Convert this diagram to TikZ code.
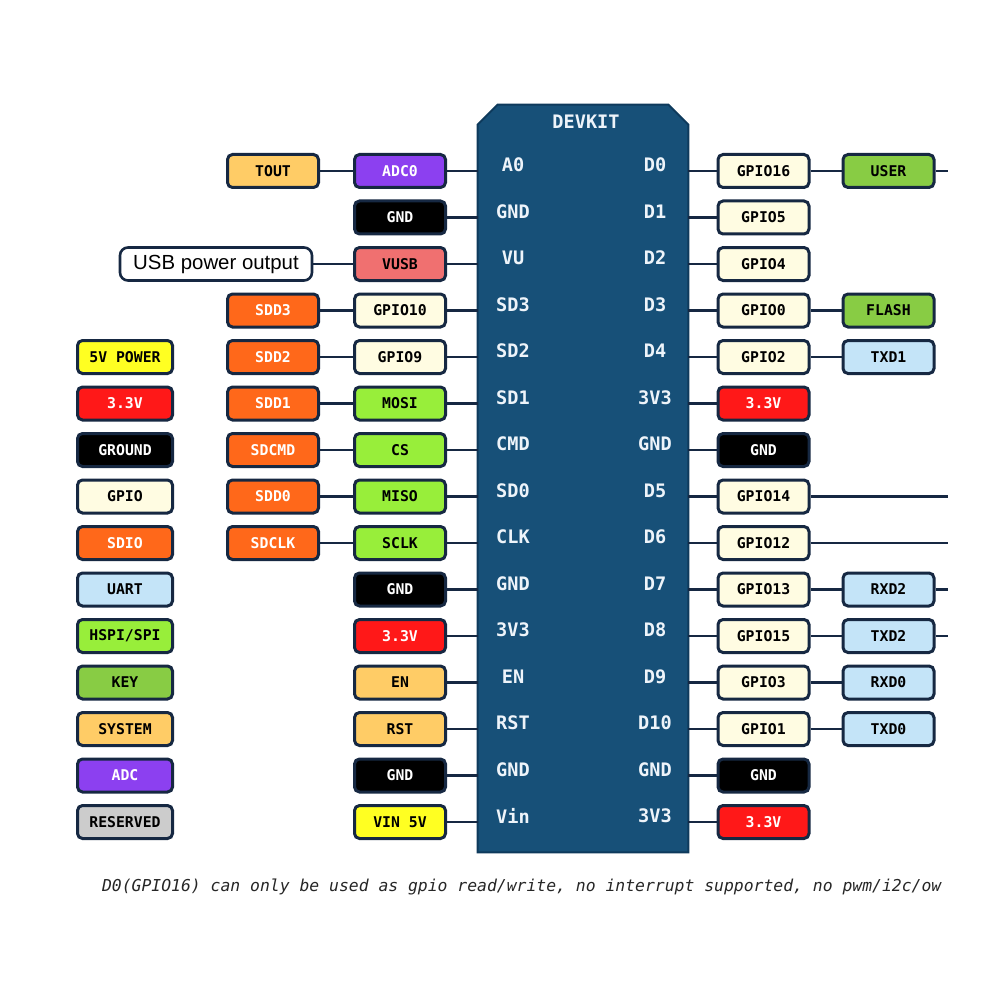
\documentclass[tikz,border=0pt]{standalone}
\usepackage{fontspec}
\setmainfont{Liberation Sans}
\setmonofont{DejaVu Sans Mono}
\usetikzlibrary{positioning}
\definecolor{edgecol}{RGB}{22,40,66}
\definecolor{boardcol}{RGB}{23,80,120}
\definecolor{boardedgecol}{RGB}{14,58,92}
\definecolor{systemcol}{RGB}{255,204,102}
\definecolor{adccol}{RGB}{140,64,240}
\definecolor{vusbcol}{RGB}{240,112,112}
\definecolor{sdiocol}{RGB}{255,104,26}
\definecolor{gpiocol}{RGB}{255,252,226}
\definecolor{spicol}{RGB}{152,238,58}
\definecolor{keycol}{RGB}{136,204,68}
\definecolor{uartcol}{RGB}{196,228,248}
\definecolor{redcol}{RGB}{255,24,24}
\definecolor{powercol}{RGB}{255,255,34}
\definecolor{reservedcol}{RGB}{204,204,204}
\definecolor{labelcol}{RGB}{238,244,250}
\tikzset
{
    pin/.style       = {rectangle, rounded corners=2.5pt, draw=edgecol, line width=1.5pt, minimum width=45.5pt, minimum height=16.5pt, inner sep=0pt, font=\ttfamily\bfseries\fontsize{7.4}{8}\selectfont},
    legendbox/.style = {pin, minimum width=47.5pt},
    boardlabel/.style= {text=labelcol, font=\ttfamily\bfseries\fontsize{9.3}{10}\selectfont},
    wire/.style      = {draw=edgecol, line width=1.3pt},
    vpower/.style    = {fill=powercol},
    v33/.style       = {fill=redcol, text=white},
    ground/.style    = {fill=black, text=white},
    gpio/.style      = {fill=gpiocol},
    sdio/.style      = {fill=sdiocol, text=white},
    uart/.style      = {fill=uartcol},
    spi/.style       = {fill=spicol},
    keypin/.style    = {fill=keycol},
    system/.style    = {fill=systemcol},
    adc/.style       = {fill=adccol, text=white},
    reserved/.style  = {fill=reservedcol},
    vusb/.style      = {fill=vusbcol}
}

\begin{document}
\begin{tikzpicture}[x=0.5pt, y=-0.5pt]
\useasboundingbox (0,0) rectangle (1000,1000);
\newcommand\colL{125}
\newcommand\colA{273}
\newcommand\colB{400}
\newcommand\colC{763.5}
\newcommand\colD{888.5}
% board
\node(board) [rectangle, minimum width=105pt, minimum height=373.5pt, inner sep=0pt] at (583, 478.5) {};
\draw[fill=boardcol, draw=boardedgecol, line width=1pt] ([yshift=-10pt]board.north west) -- ([xshift=10pt]board.north west) -- ([xshift=-10pt]board.north east) -- ([yshift=-10pt]board.north east) -- (board.south east) -- (board.south west) -- cycle;
\node(devkit) [boardlabel] at (586, 122) {DEVKIT};
% board pins, left side
\node(pA0) [boardlabel] at (513, 165) {A0};
\node(pGNDa) [boardlabel] at (513, 211.5) {GND};
\node(pVU) [boardlabel] at (513, 258) {VU};
\node(pSD3) [boardlabel] at (513, 304.5) {SD3};
\node(pSD2) [boardlabel] at (513, 351) {SD2};
\node(pSD1) [boardlabel] at (513, 397.5) {SD1};
\node(pCMD) [boardlabel] at (513, 444) {CMD};
\node(pSD0) [boardlabel] at (513, 490.5) {SD0};
\node(pCLK) [boardlabel] at (513, 537) {CLK};
\node(pGNDb) [boardlabel] at (513, 583.5) {GND};
\node(p3V3a) [boardlabel] at (513, 630) {3V3};
\node(pEN) [boardlabel] at (513, 676.5) {EN};
\node(pRST) [boardlabel] at (513, 723) {RST};
\node(pGNDc) [boardlabel] at (513, 769.5) {GND};
\node(pVin) [boardlabel] at (513, 816) {Vin};
% board pins, right side
\node(pD0) [boardlabel] at (655, 165) {D0};
\node(pD1) [boardlabel] at (655, 211.5) {D1};
\node(pD2) [boardlabel] at (655, 258) {D2};
\node(pD3) [boardlabel] at (655, 304.5) {D3};
\node(pD4) [boardlabel] at (655, 351) {D4};
\node(p3V3b) [boardlabel] at (655, 397.5) {3V3};
\node(pGNDd) [boardlabel] at (655, 444) {GND};
\node(pD5) [boardlabel] at (655, 490.5) {D5};
\node(pD6) [boardlabel] at (655, 537) {D6};
\node(pD7) [boardlabel] at (655, 583.5) {D7};
\node(pD8) [boardlabel] at (655, 630) {D8};
\node(pD9) [boardlabel] at (655, 676.5) {D9};
\node(pD10) [boardlabel] at (655, 723) {D10};
\node(pGNDe) [boardlabel] at (655, 769.5) {GND};
\node(p3V3c) [boardlabel] at (655, 816) {3V3};
% left inner column
\node(adc0) [pin,adc] at (\colB, 171) {ADC0};
\node(lgnda) [pin,ground] at (\colB, 217.5) {GND};
\node(vusb) [pin,vusb] at (\colB, 264) {VUSB};
\node(gpio10) [pin,gpio] at (\colB, 310.5) {GPIO10};
\node(gpio9) [pin,gpio] at (\colB, 357) {GPIO9};
\node(mosi) [pin,spi] at (\colB, 403.5) {MOSI};
\node(cs) [pin,spi] at (\colB, 450) {CS};
\node(miso) [pin,spi] at (\colB, 496.5) {MISO};
\node(sclk) [pin,spi] at (\colB, 543) {SCLK};
\node(lgndb) [pin,ground] at (\colB, 589.5) {GND};
\node(l3v3) [pin,v33] at (\colB, 636) {3.3V};
\node(en) [pin,system] at (\colB, 682.5) {EN};
\node(rst) [pin,system] at (\colB, 729) {RST};
\node(lgndc) [pin,ground] at (\colB, 775.5) {GND};
\node(vin) [pin,vpower] at (\colB, 822) {VIN 5V};
% left outer column
\node(tout) [pin,system] at (\colA, 171) {TOUT};
\node(usbout) [rectangle, rounded corners=4pt, draw=edgecol, line width=1.3pt, fill=white, minimum width=96pt, minimum height=16.5pt, font=\fontsize{10.2}{11}\selectfont] at (216, 264) {USB power output};
\node(sdd3) [pin,sdio] at (\colA, 310.5) {SDD3};
\node(sdd2) [pin,sdio] at (\colA, 357) {SDD2};
\node(sdd1) [pin,sdio] at (\colA, 403.5) {SDD1};
\node(sdcmd) [pin,sdio] at (\colA, 450) {SDCMD};
\node(sdd0) [pin,sdio] at (\colA, 496.5) {SDD0};
\node(sdclk) [pin,sdio] at (\colA, 543) {SDCLK};
% right inner column
\node(gpio16) [pin,gpio] at (\colC, 171) {GPIO16};
\node(gpio5) [pin,gpio] at (\colC, 217.5) {GPIO5};
\node(gpio4) [pin,gpio] at (\colC, 264) {GPIO4};
\node(gpio0) [pin,gpio] at (\colC, 310.5) {GPIO0};
\node(gpio2) [pin,gpio] at (\colC, 357) {GPIO2};
\node(r3v3a) [pin,v33] at (\colC, 403.5) {3.3V};
\node(rgnda) [pin,ground] at (\colC, 450) {GND};
\node(gpio14) [pin,gpio] at (\colC, 496.5) {GPIO14};
\node(gpio12) [pin,gpio] at (\colC, 543) {GPIO12};
\node(gpio13) [pin,gpio] at (\colC, 589.5) {GPIO13};
\node(gpio15) [pin,gpio] at (\colC, 636) {GPIO15};
\node(gpio3) [pin,gpio] at (\colC, 682.5) {GPIO3};
\node(gpio1) [pin,gpio] at (\colC, 729) {GPIO1};
\node(rgndb) [pin,ground] at (\colC, 775.5) {GND};
\node(r3v3b) [pin,v33] at (\colC, 822) {3.3V};
% right outer column
\node(user) [pin,keypin] at (\colD, 171) {USER};
\node(flash) [pin,keypin] at (\colD, 310.5) {FLASH};
\node(txd1) [pin,uart] at (\colD, 357) {TXD1};
\node(rxd2) [pin,uart] at (\colD, 589.5) {RXD2};
\node(txd2) [pin,uart] at (\colD, 636) {TXD2};
\node(rxd0) [pin,uart] at (\colD, 682.5) {RXD0};
\node(txd0) [pin,uart] at (\colD, 729) {TXD0};
\coordinate(userend) at (948, 171);
\coordinate(gpio14end) at (948, 496.5);
\coordinate(gpio12end) at (948, 543);
\coordinate(rxd2end) at (948, 589.5);
\coordinate(txd2end) at (948, 636);
% legend
\node(lpower) [legendbox,vpower] at (\colL, 357) {5V POWER};
\node(l33) [legendbox,v33] at (\colL, 403.5) {3.3V};
\node(lground) [legendbox,ground] at (\colL, 450) {GROUND};
\node(lgpio) [legendbox,gpio] at (\colL, 496.5) {GPIO};
\node(lsdio) [legendbox,sdio] at (\colL, 543) {SDIO};
\node(luart) [legendbox,uart] at (\colL, 589.5) {UART};
\node(lspi) [legendbox,spi] at (\colL, 636) {HSPI/SPI};
\node(lkey) [legendbox,keypin] at (\colL, 682.5) {KEY};
\node(lsystem) [legendbox,system] at (\colL, 729) {SYSTEM};
\node(ladc) [legendbox,adc] at (\colL, 775.5) {ADC};
\node(lreserved) [legendbox,reserved] at (\colL, 822) {RESERVED};
% note
\node(note) [anchor=west, text=black!85, font=\ttfamily\itshape\fontsize{8.2}{9}\selectfont] at (95, 887) {D0(GPIO16) can only be used as gpio read/write, no interrupt supported, no pwm/i2c/ow};
% wires to the board
\foreach \n in {adc0,lgnda,vusb,gpio10,gpio9,mosi,cs,miso,sclk,lgndb,l3v3,en,rst,lgndc,vin}
    \draw[wire] (\n) -- (\n -| board.west);
\foreach \n in {gpio16,gpio5,gpio4,gpio0,gpio2,r3v3a,rgnda,gpio14,gpio12,gpio13,gpio15,gpio3,gpio1,rgndb,r3v3b}
    \draw[wire] (\n) -- (\n -| board.east);
% wires between columns
\draw[wire] (tout) -- (adc0);
\draw[wire] (usbout) -- (vusb);
\draw[wire] (sdd3) -- (gpio10);
\draw[wire] (sdd2) -- (gpio9);
\draw[wire] (sdd1) -- (mosi);
\draw[wire] (sdcmd) -- (cs);
\draw[wire] (sdd0) -- (miso);
\draw[wire] (sdclk) -- (sclk);
\draw[wire] (gpio16) -- (user);
\draw[wire] (gpio0) -- (flash);
\draw[wire] (gpio2) -- (txd1);
\draw[wire] (gpio13) -- (rxd2);
\draw[wire] (gpio15) -- (txd2);
\draw[wire] (gpio3) -- (rxd0);
\draw[wire] (gpio1) -- (txd0);
\draw[wire] (user) -- (userend);
\draw[wire] (gpio14) -- (gpio14end);
\draw[wire] (gpio12) -- (gpio12end);
\draw[wire] (rxd2) -- (rxd2end);
\draw[wire] (txd2) -- (txd2end);
\end{tikzpicture}
\end{document}
